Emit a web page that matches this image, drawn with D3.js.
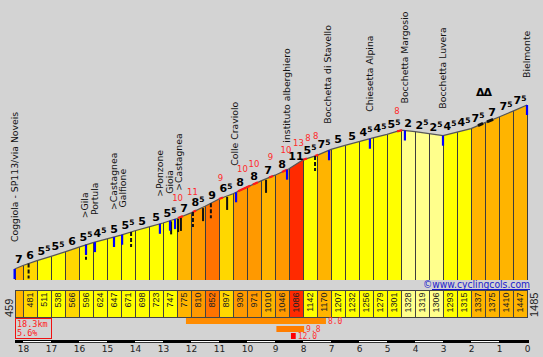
<!DOCTYPE html>
<html><head><meta charset="utf-8">
<script src="https://cdn.jsdelivr.net/npm/d3@7/dist/d3.min.js"></script>
<style>
html,body{margin:0;padding:0;background:#d3d3d3;}
svg{display:block;}
</style></head><body>
<svg id="c" width="543" height="357"></svg>
<script>
// ---- data ----
const kmPoints = [18.3,18,17.5,17,16.5,16,15.5,15,14.5,14,13.5,13,12.5,12,11.5,11,10.5,10,9.5,9,8.5,8,7.5,7,6.5,6,5.5,5,4.5,4,3.5,3,2.5,2,1.5,1,0.5,0];
const altitudes = [459,481,511,538,566,596,624,647,671,698,723,747,775,810,852,897,930,971,1010,1046,1086,1142,1170,1207,1232,1256,1279,1301,1328,1319,1306,1293,1315,1337,1375,1410,1447,1485];
const gradients = [7,6,5.5,5.5,6,5.5,4.5,5,5.5,5,5,5.5,7,8.5,9,6.5,8,8,7,8,11,5.5,7.5,5,5,4.5,4.5,5.5,-2,-2.5,-2.5,4.5,4.5,7.5,7,7.5,7.5];
const kmTicks = [18,17,16,15,14,13,12,11,10,9,8,7,6,5,4,3,2,1,0];
const whiteBarKm = [[18,17],[16,15],[14,13],[12,11],[10,9],[8,7],[6,5],[4,3],[2,1]];

const placeNames = ["Coggiola - SP113/via Noveis",">Gila","Portula",">Castagnea","Galfione",">Ponzone","Gioia",">Castagnea","Colle Craviolo","instituto alberghiero","Bocchetta di Stavello","Chiesetta Alpina","Bocchetta Margosio","Bocchetta Luvera","Bielmonte"];
const placeKm = [18.3,15.79,15.43,14.75,14.43,13.11,12.75,12.43,10.43,8.57,7.11,5.61,4.36,3.0,0];

const redMaxKm = [12.48,11.95,10.95,10.16,9.75,9.16,8.61,8.16,7.82,7.55,4.64];
const redMaxVal = [10,11,9,10,10,9,10,13,8,8,8];
const redSegStart = [12.46,11.93,11.0,10.32,9.79,9.21,8.75,8.0,7.57,4.64];
const redSegEnd   = [12.29,11.82,10.86,9.89,9.61,9.07,8.57,7.86,7.46,4.46];
const darkSegStart = [1.75,1.43];
const darkSegEnd = [1.57,1.21];

const blueMarkKm = [18.3,15.75,15.43,14.75,14.46,13.11,12.75,12.57,10.39,8.57,7.07,5.61,4.36,3.0,0];
const blackMarkKm = [12.71,12.46,12.36,11.57,10.71,9.32];
const dashedMarkKm = [17.8,15.75,14.14,11.93,11.29,7.57];
const hairpinKm = [1.55];

const steepStart = [12.18,8.95,8.43];
const steepEnd = [7.18,7.96,8.26];
const steepVal = [8.0,9.8,12.0];
const steepColor = ["#ff8c00","#ff7d00","#ff0000"];

const totalKm = "18.3km", avgGrad = "5.6%";

// ---- scales ----
const svg = d3.select('#c');
svg.append('rect').attr('width',543).attr('height',357).attr('fill','#d3d3d3');
const x = d3.scaleLinear().domain([18.3,0]).range([14.6,527]);
const y = d3.scaleLinear().domain([459,1485]).range([269,105]);
const altAt = d3.scaleLinear().domain(kmPoints).range(altitudes);
const baseY = 280;
function colorFor(g){
  if(g<0) return '#ffff8c';
  if(g<6) return '#ffff00';
  if(g<7) return '#ffd700';
  if(g<8) return '#ffb400';
  if(g<9) return '#ff9900';
  if(g<10) return '#ff7300';
  if(g<11) return '#ff5000';
  return '#ff2a00';
}
const segs = d3.range(altitudes.length-1).map(i=>({i,k0:kmPoints[i],k1:kmPoints[i+1],a0:altitudes[i],a1:altitudes[i+1],g:gradients[i]}));

// fill columns
svg.append('g').selectAll('path').data(segs).join('path')
  .attr('d', s=>`M${x(s.k0)},${baseY}L${x(s.k0)},${y(s.a0)}L${x(s.k1)},${y(s.a1)}L${x(s.k1)},${baseY}Z`)
  .attr('fill', s=>colorFor(s.g));
// separators
svg.append('g').selectAll('line').data(kmPoints).join('line')
  .attr('x1',k=>Math.round(x(k))+0.5).attr('x2',k=>Math.round(x(k))+0.5)
  .attr('y1',(k,i)=>y(altitudes[i])).attr('y2',baseY)
  .attr('stroke','#3c3c3c').attr('stroke-width',1);
// profile line
svg.append('path').datum(kmPoints.map((k,i)=>[x(k),y(altitudes[i])]))
  .attr('d',d3.line()).attr('fill','none').attr('stroke','#555').attr('stroke-width',1.2);
// red steep bits
svg.append('g').selectAll('line').data(redSegStart).join('line')
  .attr('x1',k=>x(k)).attr('y1',k=>y(altAt(k)))
  .attr('x2',(k,i)=>x(redSegEnd[i])).attr('y2',(k,i)=>y(altAt(redSegEnd[i])))
  .attr('stroke','#ff1a1a').attr('stroke-width',2.2);
// dark bits
svg.append('g').selectAll('line').data(darkSegStart).join('line')
  .attr('x1',k=>x(k)).attr('y1',k=>y(altAt(k)))
  .attr('x2',(k,i)=>x(darkSegEnd[i])).attr('y2',(k,i)=>y(altAt(darkSegEnd[i])))
  .attr('stroke','#111').attr('stroke-width',3);

// markers
svg.append('g').selectAll('line').data(blackMarkKm).join('line')
  .attr('x1',k=>x(k)).attr('x2',k=>x(k)).attr('y1',k=>y(altAt(k))+1).attr('y2',k=>y(altAt(k))+14)
  .attr('stroke','#111').attr('stroke-width',2);
svg.append('g').selectAll('line').data(dashedMarkKm).join('line')
  .attr('x1',k=>x(k)).attr('x2',k=>x(k)).attr('y1',k=>y(altAt(k))).attr('y2',k=>y(altAt(k))+15)
  .attr('stroke','#111').attr('stroke-width',2).attr('stroke-dasharray','4,2');
svg.append('g').selectAll('line').data(blueMarkKm).join('line')
  .attr('x1',k=>x(k)).attr('x2',k=>x(k)).attr('y1',k=>y(altAt(k))).attr('y2',k=>y(altAt(k))+10)
  .attr('stroke','#0000ff').attr('stroke-width',2.2);

// gradient labels
const gl = svg.append('g').selectAll('text').data(segs).join('text')
  .attr('x', s=>x((s.k0+s.k1)/2)).attr('y', s=>y((s.a0+s.a1)/2)-4)
  .attr('text-anchor','middle').attr('font-family','DejaVu Sans').attr('font-weight','bold')
  .attr('font-size',11).attr('fill','#000');
gl.each(function(s){
  const v=Math.abs(s.g), ip=Math.floor(v), half=(v-ip)>=0.5;
  const t=d3.select(this);
  t.append('tspan').text(ip);
  if(half) t.append('tspan').attr('font-size',7.5).attr('dy',-3.5).text('5');
});

// red max labels
svg.append('g').selectAll('text').data(redMaxKm).join('text')
  .attr('x',k=>x(k)).attr('y',k=>y(altAt(k))-17)
  .attr('text-anchor','middle').attr('font-family','DejaVu Sans').attr('font-size',8.5)
  .attr('fill','#ff2a2a').text((k,i)=>redMaxVal[i]);

// hairpin symbol
svg.append('g').selectAll('text').data(hairpinKm).join('text')
  .attr('x',k=>x(k)).attr('y',k=>y(altAt(k))-27)
  .attr('text-anchor','middle').attr('font-family','DejaVu Sans').attr('font-weight','bold')
  .attr('font-size',11).attr('letter-spacing',-1).attr('fill','#000').text('ΔΔ');

// place labels
svg.append('g').selectAll('text').data(placeNames).join('text')
  .attr('transform',(n,i)=>`translate(${x(placeKm[i])},${y(altAt(placeKm[i]))-27}) rotate(-90)`)
  .attr('dy','0.35em').attr('font-family','DejaVu Sans').attr('font-size',9.3)
  .attr('fill','#111').text(n=>n);

// altitude boxes
const boxTop=290, boxH=27;
svg.append('g').selectAll('rect').data(segs).join('rect')
  .attr('x',s=>Math.round(x(s.k0))+0.5).attr('y',boxTop+0.5)
  .attr('width',s=>Math.round(x(s.k1))-Math.round(x(s.k0))).attr('height',boxH)
  .attr('fill',s=>colorFor(s.g)).attr('stroke','#444');
svg.append('g').selectAll('text').data(segs.slice(1)).join('text')
  .attr('transform',s=>`translate(${(x(s.k0)+x(s.k1))/2},${boxTop+2.5}) rotate(-90)`)
  .attr('text-anchor','end').attr('dy','0.35em')
  .attr('font-family','Liberation Sans').attr('font-size',9).attr('fill','#222')
  .text(s=>s.a0);
svg.append('text').attr('transform',`translate(${x(18.3)-5.5},${boxTop+27}) rotate(-90)`)
  .attr('dy','0.35em').attr('font-family','Liberation Sans').attr('font-size',11).attr('fill','#222')
  .text(altitudes[0]);
svg.append('text').attr('transform',`translate(${x(0)+7},${boxTop+27}) rotate(-90)`)
  .attr('dy','0.35em').attr('font-family','Liberation Sans').attr('font-size',11).attr('fill','#222')
  .text(altitudes[altitudes.length-1]);

// watermark
svg.append('text').attr('x',423).attr('y',288).attr('font-family','DejaVu Sans').attr('font-size',10)
  .attr('textLength',107).attr('lengthAdjust','spacingAndGlyphs').attr('fill','#1a1acc')
  .text('©www.cyclingcols.com');
svg.append('line').attr('x1',432).attr('x2',530).attr('y1',289.5).attr('y2',289.5).attr('stroke','#1a1acc');

// summary box
svg.append('rect').attr('x',15.5).attr('y',318.5).attr('width',36).attr('height',20)
  .attr('fill','none').attr('stroke','#ee1111');
svg.append('text').attr('x',17).attr('y',326.5).attr('font-family','DejaVu Sans Mono').attr('font-size',8.5)
  .attr('fill','#ff2020').text(totalKm);
svg.append('text').attr('x',17).attr('y',336).attr('font-family','DejaVu Sans Mono').attr('font-size',8.5)
  .attr('fill','#ff2020').text(avgGrad);

// steepest stretches
const barY=[318,326,333];
svg.append('g').selectAll('rect').data(steepVal).join('rect')
  .attr('x',(v,i)=>x(steepStart[i])).attr('y',(v,i)=>barY[i])
  .attr('width',(v,i)=>x(steepEnd[i])-x(steepStart[i])).attr('height',6)
  .attr('fill',(v,i)=>steepColor[i]);
svg.append('g').selectAll('text').data(steepVal).join('text')
  .attr('x',(v,i)=>x(steepEnd[i])+2).attr('y',(v,i)=>barY[i]+6)
  .attr('font-family','DejaVu Sans Mono').attr('font-size',8).attr('fill','#ff3030')
  .text(v=>v.toFixed(1));

// km scale bar
svg.append('rect').attr('x',15).attr('y',340).attr('width',514).attr('height',3).attr('fill','#000');
svg.append('g').selectAll('rect').data(whiteBarKm).join('rect')
  .attr('x',d=>x(d[0])).attr('width',d=>x(d[1])-x(d[0])).attr('y',341).attr('height',1.2).attr('fill','#fff');
const ax = d3.axisBottom(x).tickValues(kmTicks).tickSize(0).tickPadding(3).tickFormat(d3.format('d'));
const axg = svg.append('g').attr('transform','translate(0,343)').call(ax);
axg.select('.domain').remove();
axg.selectAll('text').attr('font-family','DejaVu Sans').attr('font-size',9).attr('fill','#222');
</script>
</body></html>
